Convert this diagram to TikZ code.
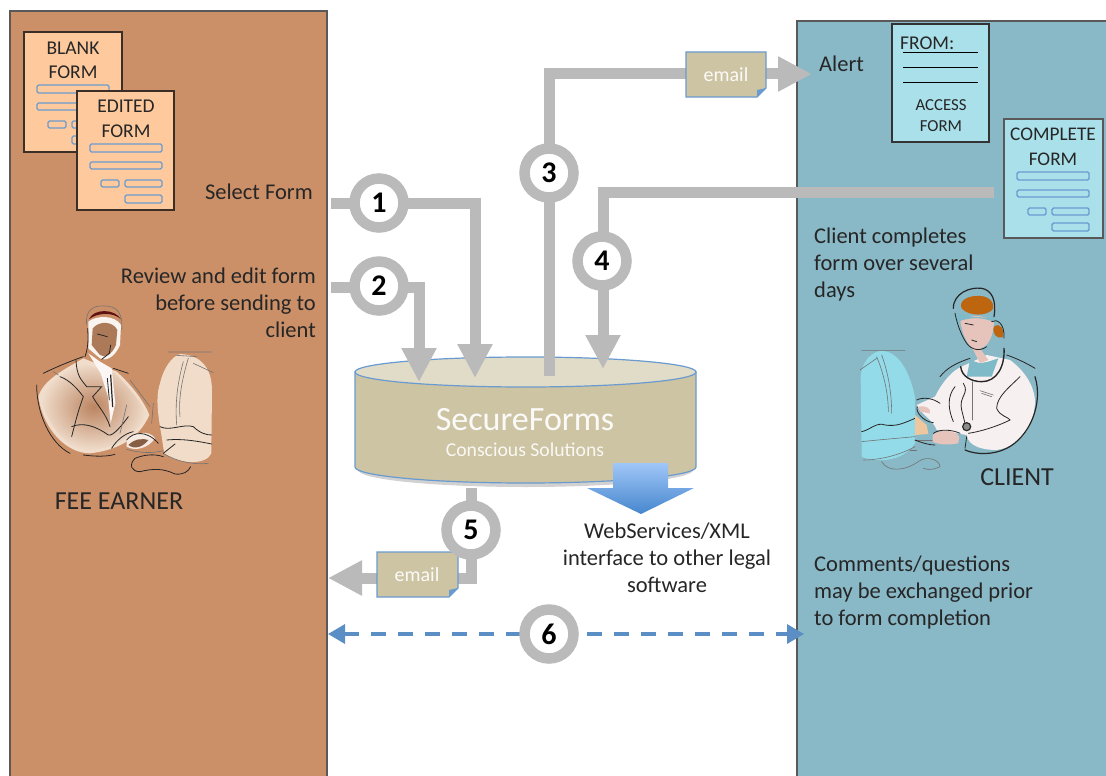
\documentclass[tikz,border=0pt]{standalone}
\usepackage{fontspec}
\setmainfont{Carlito}
\usetikzlibrary{arrows.meta}
\definecolor{leftpanel}{HTML}{CC9069}
\definecolor{rightpanel}{HTML}{89B8C6}
\definecolor{leftform}{HTML}{FEC99C}
\definecolor{rightform}{HTML}{A9E0EA}
\definecolor{pipegray}{HTML}{BABABA}
\definecolor{tan}{HTML}{CDC4A3}
\definecolor{tantop}{HTML}{E0DCC8}
\definecolor{edgeblue}{HTML}{6A9BD0}
\definecolor{dashblue}{HTML}{5B8EC4}
\definecolor{txt}{HTML}{262626}
\definecolor{coatcol}{HTML}{F7F0F0}
\definecolor{skincol}{HTML}{E6C3BB}
\definecolor{haircol}{HTML}{BE650F}
\definecolor{screencol}{HTML}{93DBE8}
\definecolor{collarcol}{HTML}{7FBAC8}
\definecolor{bodyrim}{HTML}{F0DDCC}
\definecolor{monitorcol}{HTML}{F0DCC8}
\definecolor{haircolb}{HTML}{5E1212}
\definecolor{formedge}{HTML}{3A2E26}
\tikzset{
 x=1pt,y=-1pt,
 panel/.style={draw=black!65,line width=2pt},
 pipe/.style={draw=pipegray,line width=11pt},
 pipearrow/.style={pipe,-{Triangle[length=34pt,width=33pt]}},
 badge/.style={circle,fill=white,draw=pipegray,line width=10.5pt,minimum size=49pt,inner sep=0pt,font=\fontsize{30}{30}\selectfont\bfseries,text=black},
 label/.style={font=\fontsize{22.5}{27}\selectfont,text=txt,inner sep=0pt},
 formtext/.style={font=\fontsize{19.5}{24.5}\selectfont,text=txt,inner sep=0pt,align=center},
 formbox/.style={draw=formedge,line width=1.2pt},
 field/.style={draw=edgeblue,line width=1.4pt,rounded corners=1.5pt},
 mail/.style={draw=edgeblue,line width=1.2pt,fill=tan},
 mailtext/.style={font=\fontsize{20}{20}\selectfont,text=white!92!tan,inner sep=0pt},
 ink/.style={draw=black!85,line width=.8pt,line cap=round},
 softink/.style={draw=black!55,line width=.6pt,line cap=round},
}
\newcommand{\myfields}[2]{\begin{scope}[shift={(#1,#2)}]
 \draw[field] (13,53) rectangle (85,61);
 \draw[field] (13,71) rectangle (85,78);
 \draw[field] (24,89) rectangle (42,96);
 \draw[field] (48,89) rectangle (85,96);
 \draw[field] (48,104) rectangle (85,112);
\end{scope}}
\begin{document}
\begin{tikzpicture}
\useasboundingbox (0,0) rectangle (1106,776);
% panels
\path[fill=leftpanel] (10,11) rectangle (327,790);
\draw[panel] (10,790) -- (10,11) -- (327,11) -- (327,790);
\path[fill=rightpanel] (797,21) rectangle (1120,790);
\draw[panel] (797,790) -- (797,21) -- (1120,21);

% forms left
\draw[formbox,fill=leftform] (24,32) rectangle (122,152);
\node[formtext] (blank) at (73,60.5) {BLANK\\FORM};
\myfields{24}{32}
\draw[formbox,fill=leftform] (77,91) rectangle (174,210);
\node[formtext] (edited) at (126,119) {EDITED\\FORM};
\myfields{77}{91}

% access + complete forms
\draw[formbox,draw=black!80,fill=rightform] (892,24) rectangle (989,142);
\node[formtext,anchor=west,font=\fontsize{19.5}{20}\selectfont] (from) at (900,43) {FROM:};
\draw[black,line width=1pt] (903,53) -- (978,53) (903,68) -- (978,68) (903,83) -- (978,83);
\node[formtext,font=\fontsize{16.8}{21}\selectfont] (access) at (941,116) {ACCESS\\FORM};
\draw[formbox,draw=black!65,fill=rightform] (1004,119) rectangle (1103,238);
\node[formtext,font=\fontsize{19.3}{25}\selectfont] (complete) at (1053,146.5) {COMPLETE\\FORM};
\myfields{1004}{119}

% cylinder
\path[fill=black!18] (358,470) arc[x radius=167.5,y radius=17,start angle=180,end angle=0] -- cycle;
\draw[edgeblue,line width=1.2pt,fill=tan] (355,372) -- (355,467) arc[x radius=170.5,y radius=16,start angle=180,end angle=0] -- (696,372) -- cycle;
\draw[edgeblue,line width=1.2pt,fill=tantop] (525.5,372) ellipse[x radius=170.5,y radius=15];
\node[font=\fontsize{34}{34}\selectfont,text=white!92!tan,inner sep=0pt] (secure) at (525,420) {SecureForms};
\node[font=\fontsize{19.7}{20}\selectfont,text=white!88!tan,inner sep=0pt] (conscious) at (525,450) {Conscious Solutions};

% WebServices arrow
\shade[top color={rgb,255:red,160;green,198;blue,248},bottom color={rgb,255:red,70;green,135;blue,205}]
 (613,463) -- (668,463) -- (668,488) -- (694,488) -- (641,514) -- (587,488) -- (613,488) -- cycle;

% connector end points
\coordinate (s1) at (331,203);
\coordinate (k1) at (475,203);
\coordinate (e1) at (475,378);
\coordinate (s2) at (331,287);
\coordinate (k2) at (419,287);
\coordinate (e2) at (419,382);
\coordinate (s3) at (549,376);
\coordinate (k3) at (549,74);
\coordinate (e3) at (812,74);
\coordinate (s4) at (994,192);
\coordinate (k4) at (603,192);
\coordinate (e4) at (603,369);
\coordinate (s5) at (471,488);
\coordinate (k5) at (471,578);
\coordinate (e5) at (328,578);
\coordinate (s6) at (328,634);
\coordinate (e6) at (804,634);

\draw[pipearrow] (s1) -- (k1) -- (e1);
\draw[pipearrow] (s2) -- (k2) -- (e2);
\draw[pipearrow] (s3) -- (k3) -- (e3);
\draw[pipearrow] (s4) -- (k4) -- (e4);
\draw[pipearrow] (s5) -- (k5) -- (e5);
\draw[dashblue,line width=3.4pt,dash pattern=on 15pt off 12pt,{Triangle[length=17pt,width=19pt]}-{Triangle[length=17pt,width=19pt]}] (s6) -- (e6);

% email notes
\draw[mail] (686,52) -- (766,52) -- (766,88) -- (757,97) -- (686,97) -- cycle;
\fill[edgeblue] (766,88) -- (757,97) -- (757,90) -- cycle;
\node[mailtext] (mail1) at (726,75) {email};
\draw[mail] (377,552) -- (458,552) -- (458,588) -- (449,597) -- (377,597) -- cycle;
\fill[edgeblue] (458,588) -- (449,597) -- (449,590) -- cycle;
\node[mailtext] (mail2) at (417,575) {email};

% badges
\node[badge] (c1) at (379,203) {1};
\node[badge] (c2) at (379,286) {2};
\node[badge] (c3) at (549,173) {3};
\node[badge] (c4) at (602,261) {4};
\node[badge] (c5) at (471,530) {5};
\node[badge] (c6) at (549,634) {6};

% labels
\node[label,anchor=east] (selectform) at (313,192) {Select Form};
\node[label,anchor=east,align=right] (review) at (316,303) {Review and edit form\\before sending to\\client};
\node[label,font=\fontsize{26}{26}\selectfont] (fee) at (119,501) {FEE EARNER};
\node[label,anchor=west] (alert) at (819,64) {Alert};
\node[label,anchor=west,align=left] (completes) at (814,264) {Client completes\\form over several\\days};
\node[label,font=\fontsize{26}{26}\selectfont] (client) at (1017,477) {CLIENT};
\node[label,anchor=west,align=left] (comments) at (814,592) {Comments/questions\\may be exchanged prior\\to form completion};
\node[label,align=center] (web) at (667,558) {WebServices/XML\\interface to other legal\\software};

% fee earner figure
\begin{scope}[shift={(20,290)},scale=1/3]
 \fill[bodyrim] (55,320) .. controls (70,270) and (130,240) .. (190,205) -- (290,245) .. controls (340,290) and (375,340) .. (388,375) .. controls (360,440) and (300,480) .. (210,490) .. controls (140,490) and (70,420) .. (55,320) -- cycle;
 \shade[inner color=leftpanel!92!black,outer color=bodyrim] (62,320) .. controls (80,280) and (130,250) .. (185,218) -- (285,250) .. controls (330,295) and (365,340) .. (380,375) .. controls (345,435) and (290,475) .. (210,482) .. controls (145,480) and (85,415) .. (62,320) -- cycle;
 % tie and collar
 \fill[white!92!leftpanel] (205,190) -- (240,215) -- (275,235) -- (286,340) -- (272,400) -- (264,320) -- (242,250) -- cycle;
 % face
 \fill[white!90!leftpanel] (205,95) .. controls (230,75) and (285,75) .. (303,105) -- (300,165) .. controls (285,200) and (260,215) .. (240,205) -- (205,175) -- cycle;
 \fill[leftpanel!85!black] (218,115) .. controls (240,90) and (280,95) .. (292,120) -- (288,165) .. controls (275,195) and (255,205) .. (240,195) -- (215,165) -- cycle;
 % hair
 \fill[haircolb] (207,88) .. controls (220,55) and (285,55) .. (303,88) .. controls (280,65) and (230,68) .. (207,88) -- cycle;
 \draw[softink] (200,105) .. controls (195,60) and (220,45) .. (255,48) .. controls (290,48) and (310,70) .. (305,120);
 \draw[ink] (232,132) -- (262,140);
 \draw[ink] (272,165) -- (268,190) -- (245,208);
 \draw[ink] (203,115) .. controls (205,150) and (205,170) .. (195,200);
 % suit lines
 \draw[ink] (70,250) .. controls (110,230) and (160,210) .. (190,200);
 \draw[ink] (50,285) .. controls (50,370) and (90,460) .. (150,490);
 \draw[ink] (190,495) .. controls (230,500) and (260,500) .. (285,493);
 \draw[ink] (280,235) -- (325,250);
 \draw[ink] (120,260) .. controls (150,270) and (175,300) .. (190,320) .. controls (175,360) and (165,400) .. (155,440);
 \draw[ink] (168,210) .. controls (170,260) and (185,270) .. (200,290) -- (245,290) -- (218,320) .. controls (235,350) and (260,375) .. (270,410);
 \draw[ink] (155,410) .. controls (190,395) and (230,410) .. (265,435) .. controls (280,440) and (310,400) .. (325,380);
 \draw[ink,line width=1.2pt] (272,255) -- (278,350);
 \draw[ink] (262,265) -- (268,330);
 \draw[softink] (330,270) -- (390,350) (320,345) -- (300,430);
 \draw[softink] (115,255) -- (100,245);
 % monitor
 \fill[monitorcol] (480,192) .. controls (540,195) and (575,230) .. (576,300) -- (574,490) .. controls (560,525) and (480,525) .. (432,490) .. controls (425,420) and (400,340) .. (420,280) .. controls (430,235) and (455,200) .. (480,192) -- cycle;
 \draw[softink] (445,186) -- (575,186) (470,196) -- (530,200) (520,220) -- (580,248);
 \draw[softink] (505,205) .. controls (485,270) and (475,330) .. (480,380) (490,215) .. controls (472,280) and (465,340) .. (470,405);
 \draw[ink] (420,410) .. controls (450,425) and (490,400) .. (520,410) .. controls (540,430) and (560,435) .. (575,435);
 \draw[ink] (440,450) .. controls (490,445) and (540,455) .. (575,462);
 \draw[softink] (430,490) .. controls (470,515) and (520,525) .. (565,520);
 \draw[softink] (400,340) -- (395,400);
 % hand and keyboard
 \fill[white!80!leftpanel] (320,450) .. controls (345,425) and (390,420) .. (405,445) .. controls (385,475) and (345,485) .. (320,470) -- cycle;
 \fill[black!35!leftpanel] (325,465) .. controls (345,445) and (370,445) .. (385,450) .. controls (370,470) and (345,480) .. (325,465) -- cycle;
 \draw[ink] (320,450) .. controls (340,425) and (380,420) .. (415,460);
 \draw[ink] (275,475) .. controls (290,450) and (315,430) .. (340,425);
 \draw[softink] (320,478) .. controls (360,490) and (400,490) .. (430,482);
 \draw[ink] (430,490) -- (465,462);
 \draw[ink] (345,505) .. controls (370,495) and (400,490) .. (430,500);
 \draw[ink] (345,505) .. controls (325,525) and (335,545) .. (360,545) .. controls (400,535) and (430,535) .. (465,552) .. controls (490,555) and (505,545) .. (512,530);
\end{scope}

% client figure
\begin{scope}[shift={(840,280)},scale=1/3]
 % monitor
 \fill[screencol] (125,212) .. controls (170,215) and (205,260) .. (225,350) -- (225,490) .. controls (190,545) and (110,550) .. (65,530) -- (62,290) .. controls (65,245) and (95,215) .. (125,212) -- cycle;
 \draw[softink] (65,212) -- (195,212) (60,270) -- (110,235);
 \draw[softink] (125,225) .. controls (145,280) and (155,340) .. (155,400) (110,230) .. controls (135,290) and (145,350) .. (145,395);
 \draw[ink] (65,455) .. controls (90,450) and (110,425) .. (135,435) .. controls (170,440) and (190,430) .. (225,415);
 \draw[softink] (65,485) .. controls (110,480) and (170,475) .. (225,470);
 \draw[softink] (70,540) .. controls (110,540) and (170,530) .. (225,500);
 \draw[softink] (125,545) .. controls (145,580) and (200,570) .. (235,545) .. controls (260,525) and (300,540) .. (300,560) .. controls (280,570) and (265,570) .. (250,565);
 \draw[softink] (225,480) -- (280,480) (210,510) -- (230,510);
 % coat
 \fill[coatcol] (365,260) .. controls (340,270) and (310,300) .. (285,350) -- (230,375) .. controls (240,400) and (280,420) .. (290,450) -- (380,465) .. controls (385,500) and (430,510) .. (470,510) .. controls (540,500) and (585,440) .. (585,360) .. controls (580,310) and (550,270) .. (510,240) -- (440,225) -- cycle;
 % scrub collar
 \fill[collarcol] (390,240) -- (420,250) -- (445,245) -- (475,235) -- (455,290) -- (380,290) -- cycle;
 % face
 \fill[skincol] (360,115) .. controls (395,100) and (450,110) .. (462,125) .. controls (460,170) and (445,200) .. (420,205) -- (445,240) -- (420,250) -- (400,210) .. controls (380,190) and (365,160) .. (360,115) -- cycle;
 % hair
 \fill[collarcol] (345,95) .. controls (380,115) and (430,110) .. (470,115) -- (470,130) .. controls (420,105) and (380,115) .. (355,125) -- cycle;
 \fill[haircol] (410,48) .. controls (445,45) and (462,65) .. (460,85) .. controls (445,110) and (385,110) .. (365,85) .. controls (355,65) and (380,48) .. (410,48) -- cycle;
 \fill[haircol] (462,140) .. controls (480,125) and (495,150) .. (488,172) .. controls (470,178) and (455,160) .. (462,140) -- cycle;
 % lines
 \draw[ink,line width=1.2pt] (340,85) .. controls (340,40) and (390,20) .. (425,25) .. controls (455,30) and (470,60) .. (462,110);
 \draw[ink] (345,100) .. controls (350,125) and (360,160) .. (380,190) .. controls (395,210) and (420,215) .. (440,200);
 \draw[ink] (455,125) .. controls (470,115) and (495,130) .. (492,175);
 \draw[ink] (375,130) -- (400,135);
 \draw[ink] (395,180) -- (410,185);
 % stethoscope
 \draw[ink,line width=1.4pt] (492,205) .. controls (495,260) and (470,305) .. (425,305) .. controls (395,305) and (365,290) .. (362,260);
 \draw[ink] (300,290) .. controls (320,265) and (345,250) .. (390,235);
 \draw[ink] (500,225) .. controls (530,235) and (560,250) .. (585,265);
 \draw[ink,line width=1.2pt] (585,290) .. controls (610,370) and (570,470) .. (500,505) .. controls (460,525) and (410,525) .. (375,510);
 \draw[ink] (370,310) .. controls (390,340) and (355,350) .. (365,390) -- (375,430);
 \draw[ink] (345,320) .. controls (320,350) and (325,390) .. (340,425);
 \draw[softink] (398,305) -- (398,420);
 \draw[ink] (540,290) .. controls (510,320) and (470,350) .. (470,385) .. controls (480,410) and (505,410) .. (510,420);
 \draw[ink] (510,420) .. controls (470,440) and (420,455) .. (385,460);
 \draw[softink] (420,332) -- (460,345) (425,340) -- (455,350);
 \draw[ink,fill=black!45,line width=1.2pt] (380,440) circle[radius=12];
 % hands
 \fill[skincol] (235,380) .. controls (255,375) and (275,385) .. (270,400) -- (240,395) -- cycle;
 \fill[leftform!70!tan] (225,405) -- (260,435) -- (265,462) -- (225,465) -- cycle;
 \fill[skincol] (278,465) .. controls (300,445) and (345,450) .. (358,470) -- (355,490) .. controls (330,495) and (295,495) .. (278,485) -- cycle;
 \draw[ink] (230,360) .. controls (250,350) and (280,355) .. (300,370);
 \draw[ink] (232,380) .. controls (225,395) and (250,425) .. (280,428);
 \draw[ink] (225,480) .. controls (250,490) and (270,495) .. (285,495);
 \draw[ink] (280,460) .. controls (300,445) and (340,450) .. (360,460);
 \draw[ink] (380,470) -- (375,505);
\end{scope}
\end{tikzpicture}
\end{document}
